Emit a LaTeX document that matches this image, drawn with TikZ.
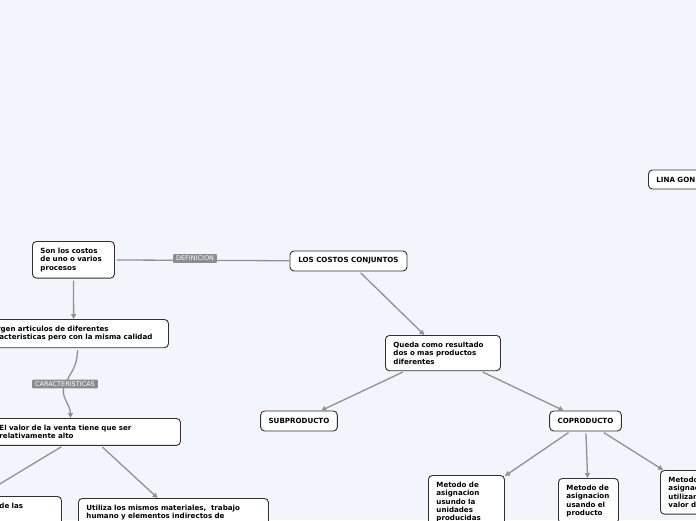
\documentclass[tikz,border=0pt]{standalone}
\usepackage{fontspec}
\setmainfont{DejaVu Sans}
\usetikzlibrary{arrows.meta, positioning, calc}
\definecolor{bgblue}{HTML}{F3F5FD}
\definecolor{linegray}{HTML}{919191}
\definecolor{taggray}{HTML}{8C8C8C}
\definecolor{boxline}{HTML}{303030}

\begin{document}
\begin{tikzpicture}[
			x=1pt, y=-1pt,
			every node/.style={font=\fontsize{7.1}{8.4}\selectfont\bfseries},
			topic/.style={rectangle, draw=boxline, fill=white, line width=0.9pt, rounded corners=4pt, inner xsep=8pt, inner ysep=6.5pt, align=left},
			tag/.style={rectangle, fill=taggray, text=white, rounded corners=1pt, inner xsep=3pt, inner ysep=2pt, font=\fontsize{6.5}{7}\selectfont},
			link/.style={draw=linegray, line width=1.3pt, shorten <=2pt},
			>={Triangle[length=5pt,width=5pt]}
			]
			% Canvas
			\useasboundingbox (0,0) rectangle (696,520);
			\fill[bgblue] (0,0) rectangle (696,520);
			\clip (0,0) rectangle (696,520);
			
			% Nodes
			\node[topic, minimum width=117pt, minimum height=20pt] (conj) at (348.5,261) {LOS COSTOS CONJUNTOS};
			\node[topic, anchor=west, text width=70pt, minimum height=19pt] (lina) at (648,179.5) {LINA GON};
			\node[topic, anchor=north west, text width=66pt] (costos) at (32,241) {Son los costos\\de uno o varios\\procesos};
			\node[topic, anchor=north west, text width=173.5pt] (surgen) at (-21.5,319) {Surgen articulos de diferentes\\caracteristicas pero con la misma calidad};
			\node[topic, anchor=north west, text width=173pt] (valor) at (-9,418) {El valor de la venta tiene que ser\\relativamente alto};
			\node[topic, anchor=north west, text width=54pt, text depth=30pt] (delas) at (-9,496) {de las};
			\node[topic, anchor=north west, text width=174pt] (utiliza) at (78,498) {Utiliza los mismos materiales,\ \ trabajo\\humano y elementos indirectos de};
			\node[topic, anchor=north west, text width=99pt] (queda) at (385,335) {Queda como resultado\\dos o mas productos\\diferentes};
			\node[topic, minimum width=76pt, minimum height=20pt] (sub) at (299,421) {SUBPRODUCTO};
			\node[topic, minimum width=71pt, minimum height=20pt] (cop) at (585.5,421) {COPRODUCTO};
			\node[topic, anchor=north west, text width=60pt] (unid) at (428,475) {Metodo de\\asignacion\\usundo la\\unidades\\producidas};
			\node[topic, anchor=north west, text width=44pt] (prod) at (558,478) {Metodo de\\asignacion\\usando el\\producto};
			\node[topic, anchor=north west, text width=60pt] (merc) at (660,470) {Metodo de\\asignacion\\utilizando el\\valor de};
			\coordinate (delasin) at (-35,505);
			
			% Arrows
			\draw[link] (costos) -- (conj);
			\draw[link, ->] (costos) -- (surgen);
			\draw[link, ->] ($(surgen.south)+(3.75,0)$) .. controls +(0,18) and +(6,-12) .. (65,384) .. controls +(-6,12) and +(0,-14) .. ($(valor.north)+(-15.5,0)$);
			\draw[link, ->] (valor) -- (delasin);
			\draw[link, ->] (valor) -- (utiliza);
			\draw[link, ->] (conj) -- (queda);
			\draw[link, ->] (queda) -- (sub);
			\draw[link, ->] (queda) -- (cop);
			\draw[link, ->] (cop) -- (unid);
			\draw[link, ->] (cop) -- (prod);
			\draw[link, ->] (cop) -- (merc);
			
			% Labels
			\node[tag] (defi) at (195,258.5) {DEFINICION};
			\node[tag] (cara) at (65,384) {CARACTERISTICAS};
		\end{tikzpicture}
\end{document}
